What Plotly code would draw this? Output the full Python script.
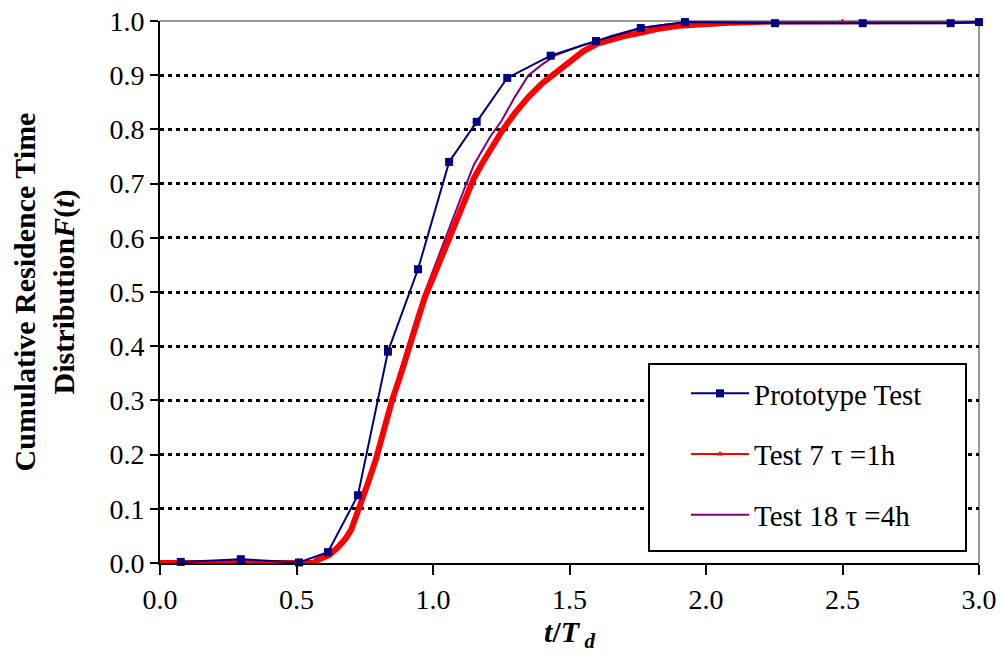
import plotly.graph_objects as go

# Prototype test (blue squares)
proto_x = [0.076, 0.296, 0.509, 0.615, 0.725, 0.835, 0.945, 1.059, 1.16, 1.272,
           1.431, 1.597, 1.761, 1.923, 2.253, 2.574, 2.896, 3.0]
proto_y = [0.002, 0.007, 0.001, 0.02, 0.125, 0.39, 0.542, 0.740, 0.814, 0.895,
           0.936, 0.963, 0.987, 0.998, 0.996, 0.996, 0.996, 0.998]

# Test 7, tau = 1h (red)
t7_x = [0.00, 0.56, 0.58, 0.62, 0.65, 0.68, 0.70, 0.73, 0.76, 0.79, 0.82, 0.85,
        0.88, 0.91, 0.94, 0.97, 1.00, 1.03, 1.06, 1.09, 1.12, 1.15, 1.18, 1.21,
        1.25, 1.30, 1.35, 1.40, 1.45, 1.50, 1.55, 1.60, 1.65, 1.70, 1.76, 1.82,
        1.90, 2.00, 2.10, 2.25, 2.50, 3.00]
t7_y = [0.0, 0.0, 0.006, 0.015, 0.028, 0.045, 0.061, 0.10, 0.145, 0.19, 0.25, 0.30,
        0.345, 0.395, 0.445, 0.49, 0.526, 0.563, 0.60, 0.635, 0.67, 0.71, 0.737, 0.763,
        0.795, 0.83, 0.86, 0.885, 0.905, 0.925, 0.944, 0.958, 0.966, 0.972, 0.978, 0.985,
        0.991, 0.995, 0.997, 0.999, 1.0, 1.0]

# Test 18, tau = 4h (purple)
t18_x = [0.00, 0.56, 0.58, 0.62, 0.65, 0.68, 0.70, 0.73, 0.76, 0.79, 0.82, 0.85,
         0.88, 0.91, 0.94, 0.97, 1.00, 1.03, 1.06, 1.09, 1.12, 1.15, 1.18, 1.21,
         1.25, 1.30, 1.35, 1.40, 1.45, 1.50, 1.55, 1.60, 1.65, 1.70, 1.76, 1.85,
         1.95, 2.10, 2.30, 3.00]
t18_y = [0.0, 0.0, 0.006, 0.017, 0.03, 0.05, 0.066, 0.105, 0.15, 0.198, 0.255, 0.305,
         0.355, 0.405, 0.455, 0.50, 0.54, 0.58, 0.62, 0.66, 0.697, 0.735, 0.76, 0.787,
         0.815, 0.86, 0.90, 0.92, 0.937, 0.947, 0.956, 0.962, 0.972, 0.979, 0.987, 0.993,
         0.997, 0.999, 1.0, 1.0]

x_ticks = [0.0, 0.5, 1.0, 1.5, 2.0, 2.5, 3.0]
y_ticks = [0.0, 0.1, 0.2, 0.3, 0.4, 0.5, 0.6, 0.7, 0.8, 0.9, 1.0]

FONT = "Times New Roman, Liberation Serif, serif"

# plot area in pixels: x 160..979, y 21..563
PL, PR, PT, PB = 160, 979, 21, 563
def px(x):
    return (x - PL) / (PR - PL)
def py(y):
    return (PB - y) / (PB - PT)

fig = go.Figure()
fig.add_trace(go.Scatter(
    x=t18_x, y=t18_y, name="Test 18 \u03c4 =4h", mode="lines",
    line=dict(color="#800080", width=2), showlegend=False, cliponaxis=False))
fig.add_trace(go.Scatter(
    x=t7_x, y=t7_y, name="Test 7 \u03c4 =1h", mode="lines+markers",
    line=dict(color="#FF0000", width=6),
    marker=dict(symbol="triangle-up", size=5, color="#FF0000"),
    showlegend=False, cliponaxis=False))
fig.add_trace(go.Scatter(
    x=proto_x, y=proto_y, name="Prototype Test", mode="lines+markers",
    line=dict(color="#000080", width=2),
    marker=dict(symbol="square", size=8, color="#000080"),
    showlegend=False, cliponaxis=False))

# legend-only entries (thin sample lines, as in the reference)
fig.add_trace(go.Scatter(
    x=[None], y=[None], name="Prototype Test", mode="lines+markers",
    line=dict(color="#000080", width=2),
    marker=dict(symbol="square", size=8, color="#000080"),
    legendrank=1, legendgroup="a"))
fig.add_trace(go.Scatter(
    x=[None], y=[None], name="Test 7 \u03c4 =1h", mode="lines+markers",
    line=dict(color="#FF0000", width=2),
    marker=dict(symbol="triangle-up", size=6, color="#FF0000"),
    legendrank=2, legendgroup="b"))
fig.add_trace(go.Scatter(
    x=[None], y=[None], name="Test 18 \u03c4 =4h", mode="lines",
    line=dict(color="#800080", width=2),
    legendrank=3, legendgroup="c"))

# top and right gray frame lines
fig.add_shape(type="line", xref="paper", yref="paper", x0=0, x1=1, y0=1, y1=1,
              line=dict(color="#999999", width=2), layer="below")
fig.add_shape(type="line", xref="paper", yref="paper", x0=1, x1=1, y0=0, y1=1,
              line=dict(color="#999999", width=2), layer="below")
# legend box
fig.add_shape(type="rect", xref="paper", yref="paper",
              x0=px(649), x1=px(966), y0=py(551), y1=py(364),
              line=dict(color="black", width=2), fillcolor="white", layer="above")

fig.update_layout(
    width=1003, height=658,
    margin=dict(l=PL, r=1003 - PR, t=PT, b=658 - PB),
    paper_bgcolor="white", plot_bgcolor="white",
    font=dict(family=FONT, color="black", size=28),
    showlegend=True,
    legend=dict(x=px(686), y=py(368), xanchor="left", yanchor="top",
                bgcolor="rgba(0,0,0,0)", borderwidth=0,
                font=dict(family=FONT, size=29), tracegroupgap=20,
                itemwidth=58),
    xaxis=dict(range=[0, 3], tickvals=x_ticks, tickformat=".1f",
               showgrid=False, zeroline=False, automargin=False,
               showline=True, linecolor="black", linewidth=2,
               ticks="outside", ticklen=10, tickwidth=2, tickcolor="black",
               tickfont=dict(family=FONT, size=28),
               title=dict(text="<b><i>t</i>/<i>T</i><sub> <i>d</i></sub></b>",
                          font=dict(family=FONT, size=30), standoff=6)),
    yaxis=dict(range=[0, 1], tickvals=y_ticks, tickformat=".1f",
               showgrid=True, gridcolor="black", gridwidth=2.5, griddash="4px,4px",
               zeroline=False, automargin=False,
               showline=True, linecolor="black", linewidth=2,
               ticks="outside", ticklen=8, tickwidth=2, tickcolor="black",
               tickfont=dict(family=FONT, size=28),
               title=dict(text="<b>Cumulative Residence Time</b><br><b>Distribution<i>F</i>(<i>t</i>)</b>",
                          font=dict(family=FONT, size=30), standoff=26)),
)

fig.write_html("out.html")
